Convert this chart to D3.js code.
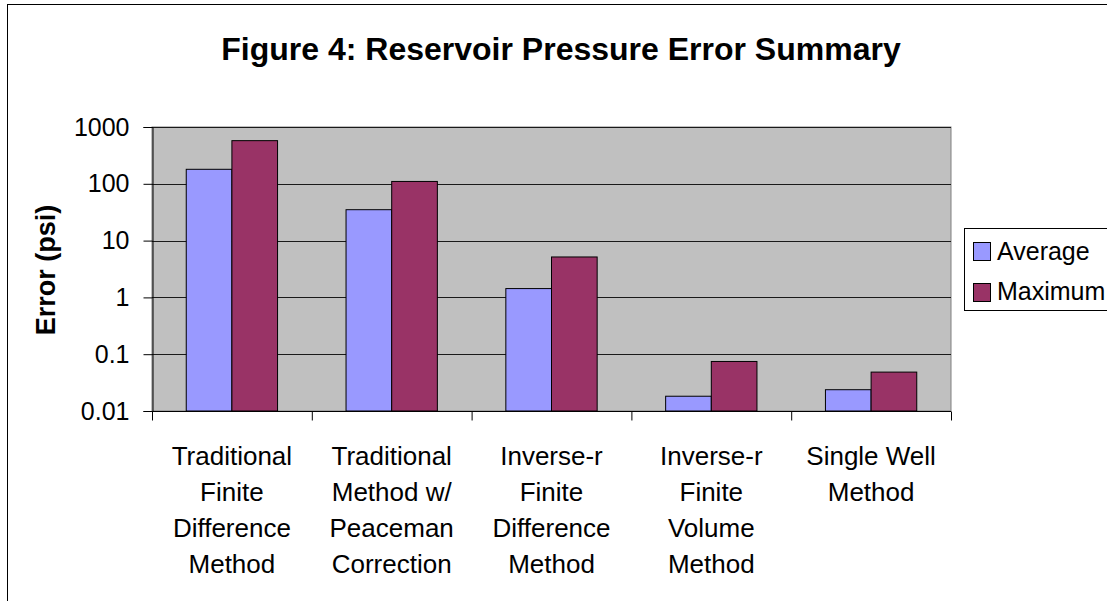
<!DOCTYPE html>
<html><head><meta charset="utf-8">
<script src="https://cdn.jsdelivr.net/npm/d3@7"></script>
<style>body{margin:0;background:#fff}svg{display:block;font-family:"Liberation Sans",Arial,sans-serif}</style>
</head><body>
<svg id="c" width="1107" height="601"></svg>
<script>
const categories = [
  ["Traditional","Finite","Difference","Method"],
  ["Traditional","Method w/","Peaceman","Correction"],
  ["Inverse-r","Finite","Difference","Method"],
  ["Inverse-r","Finite","Volume","Method"],
  ["Single Well","Method"]
];
const seriesNames = ["Average","Maximum"];
const average = [180, 35, 1.43, 0.0182, 0.0237];
const maximum = [575, 110, 5.15, 0.0745, 0.0484];
const yTicks = [0.01, 0.1, 1, 10, 100, 1000];
const yTickLabels = ["0.01","0.1","1","10","100","1000"];
const colors = ["#9999FF","#993366"];

const svg = d3.select("#c");
svg.append("rect").attr("x",7.5).attr("y",4.5).attr("width",1120).attr("height",620)
  .attr("fill","#fff").attr("stroke","#000").attr("stroke-width",1);

const L=152, R=951, T=127, B=411;
const x = d3.scaleBand().domain(d3.range(categories.length)).range([L,R]).paddingInner(0).paddingOuter(0);
const w = x.bandwidth()/3.5;
const y = d3.scaleLog().domain([0.01,1000]).range([B,T]);

svg.append("rect").attr("x",L).attr("y",T).attr("width",R-L).attr("height",B-T)
  .attr("fill","#C0C0C0").attr("stroke","#808080").attr("stroke-width",1);

svg.append("g").selectAll("line").data(yTicks.slice(1)).join("line")
  .attr("x1",L).attr("x2",R).attr("y1",d=>Math.round(y(d))+0.5).attr("y2",d=>Math.round(y(d))+0.5)
  .attr("stroke","#1a1a1a").attr("stroke-width",1);

const data = [average, maximum];
data.forEach((vals,si)=>{
  svg.append("g").selectAll("rect").data(vals).join("rect")
    .attr("x",(d,i)=>x(i)+0.75*w+si*w)
    .attr("y",d=>y(d))
    .attr("width",w)
    .attr("height",d=>B-y(d))
    .attr("fill",colors[si]).attr("stroke","#000").attr("stroke-width",1);
});

// y axis
const yAxis = d3.axisLeft(y).tickValues(yTicks).tickFormat((d,i)=>yTickLabels[i]).tickSize(9).tickPadding(14);
const ya = svg.append("g").attr("transform",`translate(${L+0.5},0)`).call(yAxis);
ya.select(".domain").attr("stroke","#000");
ya.selectAll(".tick line").attr("stroke","#000");
ya.selectAll(".tick text").attr("font-size",25).attr("fill","#000").attr("font-family","Liberation Sans, Arial");

// x axis
const xa = svg.append("g").attr("transform",`translate(0,${B+0.5})`);
xa.append("line").attr("x1",L).attr("x2",R).attr("stroke","#000");
xa.selectAll("line.t").data(d3.range(categories.length+1)).join("line").attr("class","t")
  .attr("x1",i=>L+i*x.bandwidth()+0.5).attr("x2",i=>L+i*x.bandwidth()+0.5)
  .attr("y1",0).attr("y2",9).attr("stroke","#000");

const lbl = svg.append("g");
categories.forEach((lines,i)=>{
  const t = lbl.append("text").attr("text-anchor","middle").attr("font-size",26).attr("fill","#000");
  lines.forEach((s,j)=>t.append("tspan").attr("x",x(i)+x.bandwidth()/2).attr("y",465+j*36).text(s));
});

// axis title
svg.append("text").attr("transform","translate(55,270) rotate(-90)").attr("text-anchor","middle")
  .attr("font-size",27).attr("font-weight","bold").text("Error (psi)");

// title
svg.append("text").attr("x",561).attr("y",60).attr("text-anchor","middle")
  .attr("font-size",32).attr("font-weight","bold").text("Figure 4: Reservoir Pressure Error Summary");

// legend
const lg = svg.append("g");
lg.append("rect").attr("x",964.5).attr("y",228.5).attr("width",200).attr("height",82)
  .attr("fill","#fff").attr("stroke","#000");
seriesNames.forEach((n,i)=>{
  lg.append("rect").attr("x",973.5).attr("y",242.5+i*41).attr("width",17).attr("height",18)
    .attr("fill",colors[i]).attr("stroke","#000");
  lg.append("text").attr("x",997).attr("y",260+i*40).attr("font-size",25).text(n);
});
</script>
</body></html>
